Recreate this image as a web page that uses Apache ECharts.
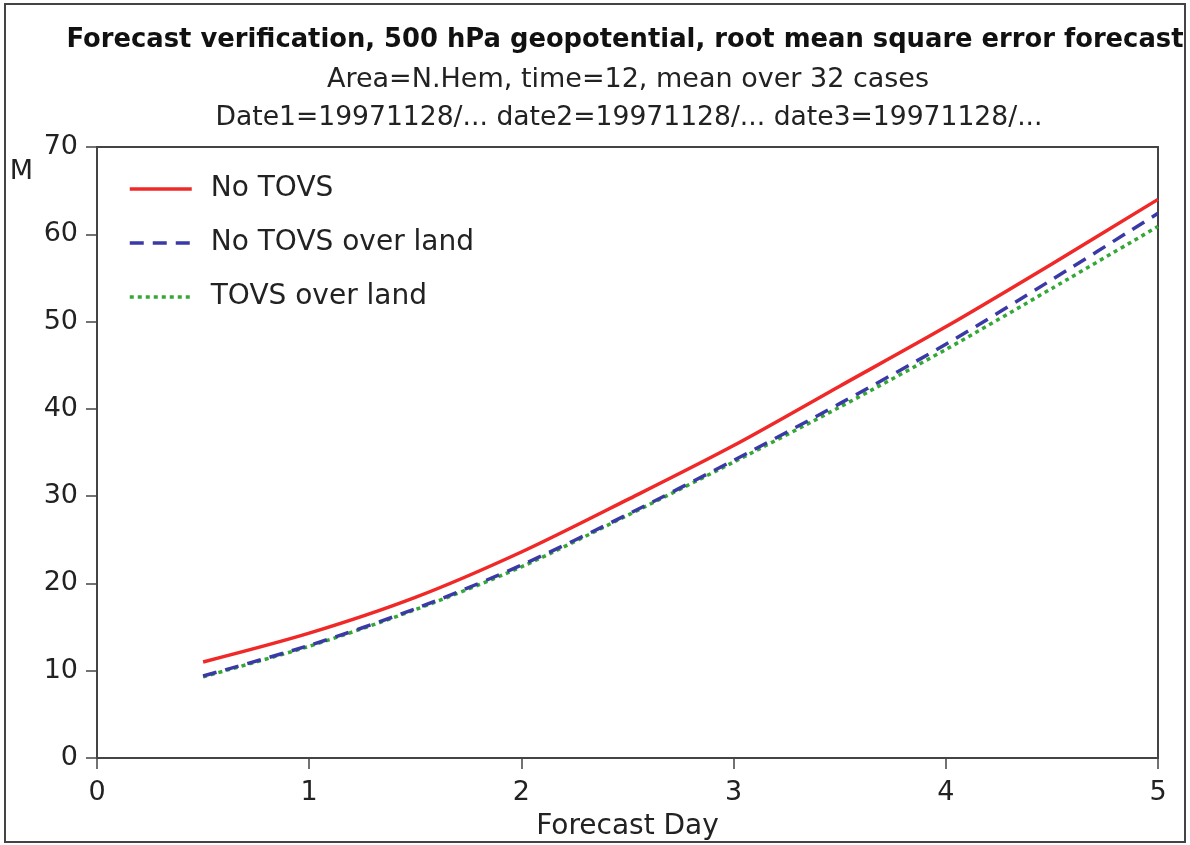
<!DOCTYPE html>
<html>
<head>
<meta charset="utf-8">
<script src="https://cdn.jsdelivr.net/npm/echarts@6/dist/echarts.min.js"></script>
<style>
html,body{margin:0;padding:0;background:#fff;}
#chart{width:1190px;height:845px;}
</style>
</head>
<body>
<div id="chart"></div>
<script>
const days = [0.5, 1, 1.5, 2, 2.5, 3, 3.5, 4, 4.5, 5];
const noTovs = [11.0, 14.3, 18.4, 23.6, 29.6, 35.8, 42.6, 49.4, 56.6, 64.0];
const noTovsLand = [9.4, 12.9, 17.1, 22.1, 27.9, 34.1, 40.6, 47.4, 54.8, 62.4];
const tovsLand = [9.3, 12.8, 17.0, 21.9, 27.8, 33.9, 40.2, 46.8, 53.8, 60.9];
const seriesNames = ['No TOVS', 'No TOVS over land', 'TOVS over land'];
const yTicks = [0, 10, 20, 30, 40, 50, 60, 70];
const xTicks = [0, 1, 2, 3, 4, 5];

const titleText = 'Forecast verification, 500 hPa geopotential, root mean square error forecast';
const subText1 = 'Area=N.Hem, time=12, mean over 32 cases';
const subText2 = 'Date1=19971128/... date2=19971128/... date3=19971128/...';

const FONT = '"DejaVu Sans", Verdana, sans-serif';
const pairs = vals => days.map((d, i) => [d, vals[i]]);

const chart = echarts.init(document.getElementById('chart'), null, {renderer: 'canvas'});
chart.setOption({
  backgroundColor: '#fff',
  animation: false,
  graphic: [
    {type: 'rect', shape: {x: 5, y: 4, width: 1180, height: 838},
     style: {fill: 'none', stroke: '#444', lineWidth: 2}, z: 0, silent: true},
    {type: 'text', x: 625, y: 40, silent: true,
     style: {text: titleText, align: 'center', verticalAlign: 'middle',
             font: 'bold 25.8px "DejaVu Sans", sans-serif', fill: '#111'}},
    {type: 'text', x: 628, y: 80, silent: true,
     style: {text: subText1, align: 'center', verticalAlign: 'middle',
             font: '27px "DejaVu Sans", sans-serif', fill: '#222'}},
    {type: 'text', x: 629, y: 118, silent: true,
     style: {text: subText2, align: 'center', verticalAlign: 'middle',
             font: '26.6px "DejaVu Sans", sans-serif', fill: '#222'}}
  ],
  legend: {
    orient: 'vertical', left: 123, top: 169, itemWidth: 62, itemHeight: 14, itemGap: 24,
    itemStyle: {opacity: 0},
    lineStyle: {width: 3.5},
    textStyle: {fontFamily: FONT, fontSize: 28, lineHeight: 30, color: '#222', padding: [0, 0, 0, 14]},
    data: seriesNames
  },
  grid: {left: 97, right: 32, top: 147, bottom: 87, show: true, borderColor: '#444', borderWidth: 2,
         containLabel: false, outerBoundsMode: 'none'},
  xAxis: {
    type: 'value', min: 0, max: 5, interval: 1,
    name: 'Forecast Day', nameLocation: 'middle', nameGap: 55,
    nameTextStyle: {fontFamily: FONT, fontSize: 28, color: '#222'},
    axisLine: {show: true, lineStyle: {color: '#444', width: 2}},
    axisTick: {show: true, length: 11, lineStyle: {color: '#444', width: 1.5}},
    axisLabel: {fontFamily: FONT, fontSize: 27, color: '#222', margin: 21,
      formatter: v => xTicks.includes(v) ? String(v) : ''},
    splitLine: {show: false}
  },
  yAxis: {
    type: 'value', min: 0, max: 70, interval: 10,
    name: 'M', nameLocation: 'end', nameGap: 0,
    nameTextStyle: {fontFamily: FONT, fontSize: 27, color: '#222', align: 'right', verticalAlign: 'top', padding: [11, 64, 0, 0]},
    axisLine: {show: true, lineStyle: {color: '#444', width: 2}},
    axisTick: {show: true, length: 11, lineStyle: {color: '#444', width: 1.5}},
    axisLabel: {fontFamily: FONT, fontSize: 27, color: '#222', margin: 19,
      formatter: v => yTicks.includes(v) ? String(v) : ''},
    splitLine: {show: false}
  },
  series: [
    {name: seriesNames[0], type: 'line', data: pairs(noTovs), smooth: 0.3, symbol: 'none',
     lineStyle: {color: '#f02828', width: 3.5}, itemStyle: {color: '#f02828'}, z: 3},
    {name: seriesNames[1], type: 'line', data: pairs(noTovsLand), smooth: 0.3, symbol: 'none',
     lineStyle: {color: '#3a3aa6', width: 3.5, type: [14, 9]}, itemStyle: {color: '#3a3aa6'}, z: 4},
    {name: seriesNames[2], type: 'line', data: pairs(tovsLand), smooth: 0.3, symbol: 'none',
     lineStyle: {color: '#34a834', width: 3.5, type: [4, 4]}, itemStyle: {color: '#34a834'}, z: 2}
  ]
});
</script>
</body>
</html>
